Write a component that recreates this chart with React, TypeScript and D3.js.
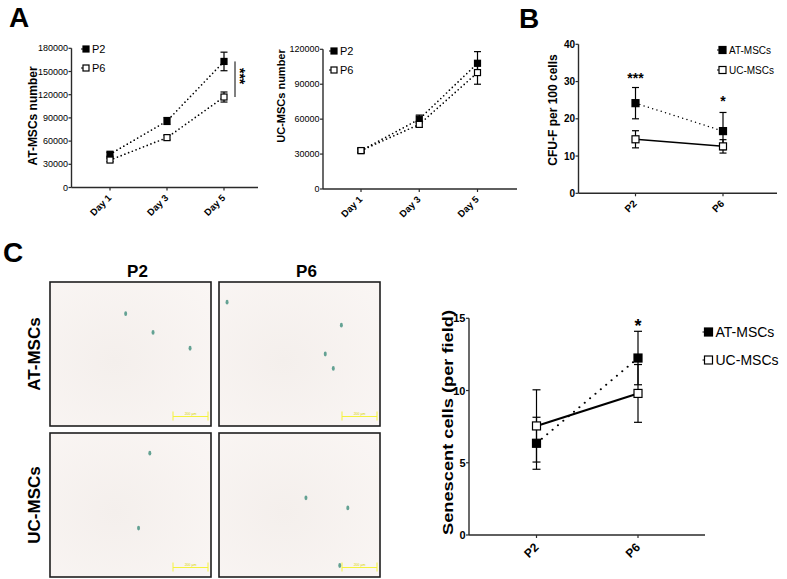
import * as d3 from 'd3';

// growth curves (panel A)
const dayLabels = ['Day 1', 'Day 3', 'Day 5'];
const atP2Means = [43000, 86000, 163000];
const atP2Errors = [2500, 4500, 12000];
const atP6Means = [35500, 64500, 117000];
const atP6Errors = [2000, 3000, 6500];
const ucP2Means = [33000, 60000, 108000];
const ucP2Errors = [1500, 3500, 10000];
const ucP6Means = [33000, 55500, 100000];
const ucP6Errors = [1500, 2500, 10000];
const atGrowthTicks = [0, 30000, 60000, 90000, 120000, 150000, 180000];
const ucGrowthTicks = [0, 30000, 60000, 90000, 120000];

// CFU-F (panel B)
const passageLabels = ['P2', 'P6'];
const cfuAtMeans = [24.2, 16.7];
const cfuAtErrors = [4.2, 5.0];
const cfuUcMeans = [14.5, 12.6];
const cfuUcErrors = [2.3, 1.8];
const cfuTicks = [0, 10, 20, 30, 40];

// senescence (panel C)
const senAtMeans = [6.35, 12.25];
const senAtErrors = [1.8, 1.85];
const senUcMeans = [7.55, 9.8];
const senUcErrors = [2.5, 2.0];
const senTicks = [0, 5, 10, 15];

// SA-beta-gal stained cells seen in each micrograph (fraction of the frame)
const stainsAtP2 = [[0.47, 0.22], [0.64, 0.35], [0.87, 0.46]];
const stainsAtP6 = [[0.05, 0.14], [0.76, 0.3], [0.66, 0.5], [0.71, 0.6]];
const stainsUcP2 = [[0.62, 0.14], [0.55, 0.66]];
const stainsUcP6 = [[0.54, 0.45], [0.8, 0.52], [0.75, 0.92]];

const FONT = '"Liberation Sans", Arial, sans-serif';
const AXIS = '#2a2a2a';

interface Series {
  name: string;
  means: number[];
  errors: number[];
  filled: boolean;
  dotted: boolean;
}

interface PlotSpec {
  categories: string[];
  series: Series[];
  ticks: number[];
  axisX: number;
  axisEnd: number;
  yBottom: number;
  yTop: number;
  catFirst: number;
  catLast: number;
  tickFont: number;
  tickWeight: string;
  catFont: number;
  catDx: number;
  catDy: number;
  title: string;
  titleFont: number;
  titleX: number;
  titleY: number;
  titleLength?: number;
  marker: number;
  cap: number;
  lineWidth: number;
  dotGap: number;
  legendX: number;
  legendY: number;
  legendDy: number;
  legendFont: number;
}

function LinePlot({ spec, children }: { spec: PlotSpec; children?: (x: (c: string) => number, y: d3.ScaleLinear<number, number>) => any }) {
  const x = d3.scalePoint<string>().domain(spec.categories).range([spec.catFirst, spec.catLast]);
  const y = d3
    .scaleLinear()
    .domain([0, spec.ticks[spec.ticks.length - 1]])
    .range([spec.yBottom, spec.yTop]);
  const line = d3
    .line<number>()
    .x((_, i) => x(spec.categories[i]) ?? 0)
    .y(d => y(d));
  const half = spec.marker / 2;

  return (
    <g fontFamily={FONT}>
      {/* axes */}
      <line x1={spec.axisX} x2={spec.axisX} y1={y(0)} y2={y.range()[1]} stroke={AXIS} strokeWidth={1.4} />
      <line x1={spec.axisX} x2={spec.axisEnd} y1={y(0)} y2={y(0)} stroke={AXIS} strokeWidth={1.4} />
      {spec.ticks.map(t => (
        <g key={t}>
          <line x1={spec.axisX - 3} x2={spec.axisX} y1={y(t)} y2={y(t)} stroke={AXIS} strokeWidth={1.2} />
          <text
            x={spec.axisX - 3.5}
            y={y(t)}
            textAnchor="end"
            dominantBaseline="central"
            fontSize={spec.tickFont}
            fontWeight={spec.tickWeight}
          >
            {t}
          </text>
        </g>
      ))}
      {spec.categories.map(c => (
        <g key={c}>
          <line x1={x(c)} x2={x(c)} y1={y(0)} y2={y(0) + 3} stroke={AXIS} strokeWidth={1.2} />
          <text
            transform={`translate(${(x(c) ?? 0) + spec.catDx},${y(0) + spec.catDy}) rotate(-45)`}
            textAnchor="end"
            fontSize={spec.catFont}
            fontWeight="bold"
          >
            {c}
          </text>
        </g>
      ))}
      <text
        transform={`translate(${spec.titleX},${spec.titleY}) rotate(-90)`}
        textAnchor="middle"
        fontSize={spec.titleFont}
        fontWeight="bold"
        textLength={spec.titleLength}
        lengthAdjust={spec.titleLength ? 'spacingAndGlyphs' : undefined}
      >
        {spec.title}
      </text>

      {/* connecting lines */}
      {spec.series.map(s => (
        <path
          key={`l-${s.name}`}
          d={line(s.means) ?? ''}
          fill="none"
          stroke="#000"
          strokeWidth={spec.lineWidth}
          strokeLinecap={s.dotted ? 'round' : 'butt'}
          strokeDasharray={s.dotted ? `0 ${spec.dotGap}` : undefined}
        />
      ))}

      {/* error bars and markers */}
      {spec.series.map(s => (
        <g key={`m-${s.name}`}>
          {s.means.map((m, i) => {
            const cx = x(spec.categories[i]) ?? 0;
            const top = y(m + s.errors[i]);
            const bottom = y(m - s.errors[i]);
            return (
              <g key={i}>
                <line x1={cx} x2={cx} y1={top} y2={bottom} stroke="#000" strokeWidth={1.2} />
                <line x1={cx - spec.cap / 2} x2={cx + spec.cap / 2} y1={top} y2={top} stroke="#000" strokeWidth={1.2} />
                <line x1={cx - spec.cap / 2} x2={cx + spec.cap / 2} y1={bottom} y2={bottom} stroke="#000" strokeWidth={1.2} />
                <rect
                  x={cx - half}
                  y={y(m) - half}
                  width={spec.marker}
                  height={spec.marker}
                  fill={s.filled ? '#000' : '#fff'}
                  stroke="#000"
                  strokeWidth={1.2}
                />
              </g>
            );
          })}
        </g>
      ))}

      {/* legend */}
      {spec.series.map((s, i) => (
        <g key={`lg-${s.name}`} transform={`translate(${spec.legendX},${spec.legendY + i * spec.legendDy})`}>
          <line x1={-half - 2} x2={-half} y1={0} y2={0} stroke="#000" strokeWidth={1} />
          <rect
            x={-half}
            y={-half}
            width={spec.marker}
            height={spec.marker}
            fill={s.filled ? '#000' : '#fff'}
            stroke="#000"
            strokeWidth={1.2}
          />
          <text x={half + 3} y={0} dominantBaseline="central" fontSize={spec.legendFont}>
            {s.name}
          </text>
        </g>
      ))}
      {children ? children(c => x(c) ?? 0, y) : null}
    </g>
  );
}

const atGrowthSpec: PlotSpec = {
  categories: dayLabels,
  series: [
    { name: 'P2', means: atP2Means, errors: atP2Errors, filled: true, dotted: true },
    { name: 'P6', means: atP6Means, errors: atP6Errors, filled: false, dotted: true }
  ],
  ticks: atGrowthTicks,
  axisX: 71.5,
  axisEnd: 258,
  yBottom: 187.5,
  yTop: 48.3,
  catFirst: 110,
  catLast: 224,
  tickFont: 9,
  tickWeight: 'normal',
  catFont: 9.5,
  catDx: 2,
  catDy: 11,
  title: 'AT-MSCs number',
  titleFont: 12,
  titleX: 36.5,
  titleY: 116,
  marker: 6,
  cap: 7,
  lineWidth: 1.7,
  dotGap: 4,
  legendX: 86,
  legendY: 49,
  legendDy: 19,
  legendFont: 11
};

const ucGrowthSpec: PlotSpec = {
  ...atGrowthSpec,
  series: [
    { name: 'P2', means: ucP2Means, errors: ucP2Errors, filled: true, dotted: true },
    { name: 'P6', means: ucP6Means, errors: ucP6Errors, filled: false, dotted: true }
  ],
  ticks: ucGrowthTicks,
  axisX: 323,
  axisEnd: 517,
  yBottom: 189,
  yTop: 49.3,
  catFirst: 361,
  catLast: 477.5,
  title: 'UC-MSCs number',
  titleFont: 11,
  titleX: 285,
  titleY: 96,
  legendX: 334,
  legendY: 51
};

const cfuSpec: PlotSpec = {
  categories: passageLabels,
  series: [
    { name: 'AT-MSCs', means: cfuAtMeans, errors: cfuAtErrors, filled: true, dotted: true },
    { name: 'UC-MSCs', means: cfuUcMeans, errors: cfuUcErrors, filled: false, dotted: false }
  ],
  ticks: cfuTicks,
  axisX: 578.5,
  axisEnd: 777,
  yBottom: 193.3,
  yTop: 44.3,
  catFirst: 635.5,
  catLast: 723,
  tickFont: 10,
  tickWeight: 'bold',
  catFont: 10,
  catDx: 2,
  catDy: 11,
  title: 'CFU-F per 100 cells',
  titleFont: 12,
  titleX: 557,
  titleY: 110,
  marker: 7,
  cap: 7,
  lineWidth: 1.5,
  dotGap: 4.5,
  legendX: 722.5,
  legendY: 50,
  legendDy: 20,
  legendFont: 10
};

const senSpec: PlotSpec = {
  categories: passageLabels,
  series: [
    { name: 'AT-MSCs', means: senAtMeans, errors: senAtErrors, filled: true, dotted: true },
    { name: 'UC-MSCs', means: senUcMeans, errors: senUcErrors, filled: false, dotted: false }
  ],
  ticks: senTicks,
  axisX: 469,
  axisEnd: 705,
  yBottom: 535,
  yTop: 318.3,
  catFirst: 536.5,
  catLast: 638,
  tickFont: 11,
  tickWeight: 'bold',
  catFont: 12,
  catDx: 3,
  catDy: 13,
  title: 'Senescent cells (per field)',
  titleFont: 15,
  titleX: 452.5,
  titleY: 422.5,
  titleLength: 225,
  marker: 8,
  cap: 8,
  lineWidth: 2.2,
  dotGap: 7,
  legendX: 708.5,
  legendY: 332,
  legendDy: 28,
  legendFont: 14
};

interface Micrograph {
  col: number;
  row: number;
  stains: number[][];
}

const micrographs: Micrograph[] = [
  { col: 0, row: 0, stains: stainsAtP2 },
  { col: 1, row: 0, stains: stainsAtP6 },
  { col: 0, row: 1, stains: stainsUcP2 },
  { col: 1, row: 1, stains: stainsUcP6 }
];

function Micrographs() {
  const colX = d3.scaleOrdinal<number, number>().domain([0, 1]).range([50, 219]);
  const rowY = d3.scaleOrdinal<number, number>().domain([0, 1]).range([282, 433]);
  const w = 161;
  const h = 144;
  return (
    <g fontFamily={FONT}>
      <defs>
        <radialGradient id="field" cx="0.4" cy="0.55" r="0.8">
          <stop offset="0" stopColor="#f4efec" />
          <stop offset="1" stopColor="#faf6f4" />
        </radialGradient>
      </defs>
      {passageLabels.map((p, i) => (
        <text key={p} x={colX(i) + w / 2 + 7} y={276.5} textAnchor="middle" fontSize={17} fontWeight="bold">
          {p}
        </text>
      ))}
      {['AT-MSCs', 'UC-MSCs'].map((r, i) => (
        <text
          key={r}
          transform={`translate(39.5,${rowY(i) + h / 2})rotate(-90)`}
          textAnchor="middle"
          fontSize={17}
          fontWeight="bold"
        >
          {r}
        </text>
      ))}
      {micrographs.map(m => {
        const x0 = colX(m.col);
        const y0 = rowY(m.row);
        const sx = d3.scaleLinear().range([x0, x0 + w]);
        const sy = d3.scaleLinear().range([y0, y0 + h]);
        const barY = y0 + h - 9.5;
        const barX0 = x0 + w - 38;
        const barX1 = x0 + w - 3;
        return (
          <g key={`${m.col}-${m.row}`}>
            <rect x={x0} y={y0} width={w} height={h} fill="url(#field)" />
            {m.stains.map(([fx, fy], i) => (
              <ellipse key={i} cx={sx(fx)} cy={sy(fy)} rx={1.5} ry={2.4} fill="#3f8d7c" opacity={0.8} />
            ))}
            <g stroke="#f4f23c" strokeWidth={1}>
              <line x1={barX0} x2={barX1} y1={barY} y2={barY} />
              <line x1={barX0} x2={barX0} y1={barY - 5} y2={barY + 4} />
              <line x1={barX1} x2={barX1} y1={barY - 5} y2={barY + 4} />
            </g>
            <text x={(barX0 + barX1) / 2} y={barY - 1.5} textAnchor="middle" fontSize={3.5} fill="#d8d400">
              200 µm
            </text>
            <rect x={x0} y={y0} width={w} height={h} fill="none" stroke="#1e1e1e" strokeWidth={1.6} />
          </g>
        );
      })}
    </g>
  );
}

export default function App() {
  return (
    <svg
      width={787}
      height={579}
      viewBox="0 0 787 579"
      style={{ position: 'absolute', left: 0, top: 0, display: 'block', background: '#fff' }}
    >
      <rect width={787} height={579} fill="#fff" />
      <g fontFamily={FONT} fontWeight="bold" fontSize={28}>
        <text x={9} y={27}>A</text>
        <text x={519} y={28}>B</text>
        <text x={3} y={262}>C</text>
      </g>

      <LinePlot spec={atGrowthSpec}>
        {(x, y) => (
          <g>
            <line
              x1={x('Day 5') + 11}
              x2={x('Day 5') + 11}
              y1={y(atP2Means[2])}
              y2={y(atP6Means[2])}
              stroke="#000"
              strokeWidth={1}
            />
            <text
              transform={`translate(${x('Day 5') + 10.5},${y((atP2Means[2] + atP6Means[2]) / 2 + 4000)}) rotate(90)`}
              textAnchor="middle"
              fontSize={14}
              fontWeight="bold"
            >
              ***
            </text>
          </g>
        )}
      </LinePlot>
      <LinePlot spec={ucGrowthSpec} />
      <LinePlot spec={cfuSpec}>
        {(x, y) => (
          <g fontSize={14} fontWeight="bold" textAnchor="middle">
            <text x={x('P2')} y={y(cfuAtMeans[0] + cfuAtErrors[0]) - 4.5}>***</text>
            <text x={x('P6')} y={y(cfuAtMeans[1] + cfuAtErrors[1]) - 6}>*</text>
          </g>
        )}
      </LinePlot>

      <Micrographs />

      <LinePlot spec={senSpec}>
        {(x, y) => (
          <text x={x('P6')} y={y(senAtMeans[1] + senAtErrors[1]) + 1} textAnchor="middle" fontSize={18} fontWeight="bold">
            *
          </text>
        )}
      </LinePlot>
    </svg>
  );
}
